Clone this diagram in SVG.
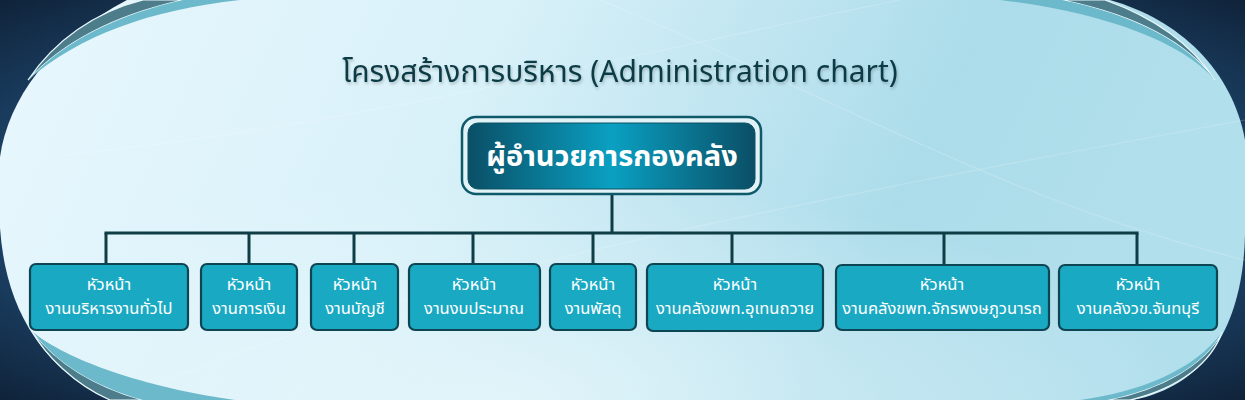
<svg xmlns="http://www.w3.org/2000/svg" width="1245" height="400" viewBox="0 0 1245 400">
<defs>
<linearGradient id="bgLight" x1="0" y1="0" x2="1" y2="0.15">
<stop offset="0" stop-color="#e8f7fd"/>
<stop offset="0.4" stop-color="#d9f1f9"/>
<stop offset="0.78" stop-color="#acdcea"/>
<stop offset="1" stop-color="#b2dfec"/>
</linearGradient>
<radialGradient id="glowBottom" cx="0.4" cy="1" r="0.55">
<stop offset="0" stop-color="#e6f6fb" stop-opacity="0.85"/>
<stop offset="1" stop-color="#e6f6fb" stop-opacity="0"/>
</radialGradient>
<radialGradient id="dark" cx="0.5" cy="0.5" r="0.72">
<stop offset="0.6" stop-color="#1f4b74"/>
<stop offset="1" stop-color="#0f2137"/>
</radialGradient>
<linearGradient id="topNode" x1="0" y1="0" x2="1" y2="0">
<stop offset="0" stop-color="#0a4f66"/>
<stop offset="0.5" stop-color="#0aa0c2"/>
<stop offset="1" stop-color="#0a4f66"/>
</linearGradient>
<filter id="shadow" x="-5%" y="-30%" width="110%" height="160%">
<feGaussianBlur in="SourceAlpha" stdDeviation="1.5"/>
<feOffset dx="1" dy="2" result="b"/>
<feFlood flood-color="#000" flood-opacity="0.22"/>
<feComposite in2="b" operator="in"/>
<feMerge><feMergeNode/><feMergeNode in="SourceGraphic"/></feMerge>
</filter>
<style>
.box{fill:#19a9c3;stroke:#0d4552;stroke-width:2.2}
.lbl{font-family:"Noto Sans","Noto Sans Thai","Leelawadee UI",Tahoma,sans-serif;font-size:16.5px;fill:#ffffff;text-anchor:middle}
.conn{stroke:#0e3d45;stroke-width:3;fill:none}
.teal{fill:#6cb9cc}
.gray{fill:#4d7d8b;stroke:#eaf8fc;stroke-width:1.2}
.wave{fill:none;stroke:#ffffff;stroke-opacity:0.18;stroke-width:1.2}
</style>
</defs>
<!-- background -->
<rect x="0" y="0" width="1245" height="400" fill="url(#dark)"/>
<path id="lightArea" d="M127,0 H1110 C1180,20 1232,70 1245,140 V235 C1243,320 1210,385 1133,400 H110 C35,365 5,300 0,228 V157 C8,100 50,40 127,0 Z" fill="url(#bgLight)"/>
<path d="M127,0 H1110 C1180,20 1232,70 1245,140 V235 C1243,320 1210,385 1133,400 H110 C35,365 5,300 0,228 V157 C8,100 50,40 127,0 Z" fill="url(#glowBottom)"/>
<!-- waves -->
<path class="wave" d="M0,160 C300,140 600,60 900,0"/>
<path class="wave" d="M120,400 C400,280 700,220 1245,120"/>
<path class="wave" d="M600,0 C800,80 1000,200 1245,260"/>
<!-- decorative stripes -->
<path class="gray" d="M28,80 C55,40 95,12 143,0 L183,0 C120,14 65,40 28,80 Z"/>
<path class="teal" d="M28,80 C65,40 120,14 183,0 L240,0 C150,10 80,35 28,80 Z"/>
<path class="gray" d="M1215,80 C1190,42 1150,16 1105,0 L1062,0 C1130,14 1185,40 1215,80 Z"/>
<path class="teal" d="M1215,80 C1185,40 1130,14 1062,0 L1000,0 C1100,12 1180,40 1215,80 Z"/>
<path class="gray" d="M33,332 C45,355 75,385 110,400 L143,400 C95,387 55,362 33,332 Z"/>
<path class="teal" d="M33,332 C55,362 95,387 143,400 L235,400 C130,385 60,355 33,332 Z"/>
<path class="gray" d="M1222,332 C1212,362 1180,388 1130,400 L1107,400 C1160,390 1205,365 1222,332 Z"/>
<path class="teal" d="M1222,332 C1205,365 1160,390 1107,400 L1080,400 C1140,392 1195,370 1222,332 Z"/>
<!-- title -->
<text x="620" y="82" font-family="'Noto Sans','Noto Sans Thai','Leelawadee UI',Tahoma,sans-serif" font-size="30" fill="#0d3b44" text-anchor="middle" filter="url(#shadow)">โครงสร้างการบริหาร (Administration chart)</text>
<!-- connectors -->
<g id="connectors">
<line class="conn" x1="612" y1="194" x2="612" y2="233"/>
<line class="conn" x1="104.5" y1="233" x2="1138.5" y2="233"/>
<line class="conn" x1="106" y1="233" x2="106" y2="264"/>
<line class="conn" x1="249" y1="233" x2="249" y2="264"/>
<line class="conn" x1="354" y1="233" x2="354" y2="264"/>
<line class="conn" x1="473" y1="233" x2="473" y2="264"/>
<line class="conn" x1="593" y1="233" x2="593" y2="264"/>
<line class="conn" x1="732" y1="233" x2="732" y2="264"/>
<line class="conn" x1="944" y1="233" x2="944" y2="264"/>
<line class="conn" x1="1137" y1="233" x2="1137" y2="264"/>
</g>
<!-- top node -->
<g id="director">
<rect x="462" y="117" width="299" height="77" rx="14" fill="#e2f3f8" stroke="#0e5a6a" stroke-width="2.5"/>
<rect x="468" y="123" width="287" height="66" rx="10" fill="url(#topNode)" stroke="#0b5266" stroke-width="1"/>
<text x="612" y="166" font-family="'Noto Sans','Noto Sans Thai','Leelawadee UI',Tahoma,sans-serif" font-size="29" font-weight="bold" fill="#ffffff" text-anchor="middle">ผู้อำนวยการกองคลัง</text>
</g>
<g id="n1"><rect class="box" x="30" y="264" width="158" height="66" rx="6"/><text class="lbl" x="109" y="290">หัวหน้า</text><text class="lbl" x="109" y="314">งานบริหารงานทั่วไป</text></g>
<g id="n2"><rect class="box" x="201" y="264" width="96" height="66" rx="6"/><text class="lbl" x="249" y="290">หัวหน้า</text><text class="lbl" x="249" y="314">งานการเงิน</text></g>
<g id="n3"><rect class="box" x="311" y="264" width="87" height="66" rx="6"/><text class="lbl" x="355" y="290">หัวหน้า</text><text class="lbl" x="355" y="314">งานบัญชี</text></g>
<g id="n4"><rect class="box" x="409" y="264" width="131" height="66" rx="6"/><text class="lbl" x="474" y="290">หัวหน้า</text><text class="lbl" x="474" y="314">งานงบประมาณ</text></g>
<g id="n5"><rect class="box" x="550" y="264" width="86" height="66" rx="6"/><text class="lbl" x="593" y="290">หัวหน้า</text><text class="lbl" x="593" y="314">งานพัสดุ</text></g>
<g id="n6"><rect class="box" x="647" y="264" width="176" height="67" rx="6"/><text class="lbl" x="735" y="290">หัวหน้า</text><text class="lbl" x="735" y="314">งานคลังขพท.อุเทนถวาย</text></g>
<g id="n7"><rect class="box" x="836" y="265" width="213" height="65" rx="6"/><text class="lbl" x="942" y="290">หัวหน้า</text><text class="lbl" x="942" y="314">งานคลังขพท.จักรพงษภูวนารถ</text></g>
<g id="n8"><rect class="box" x="1059" y="265" width="158" height="65" rx="6"/><text class="lbl" x="1138" y="290">หัวหน้า</text><text class="lbl" x="1138" y="314">งานคลังวข.จันทบุรี</text></g>
</svg>
